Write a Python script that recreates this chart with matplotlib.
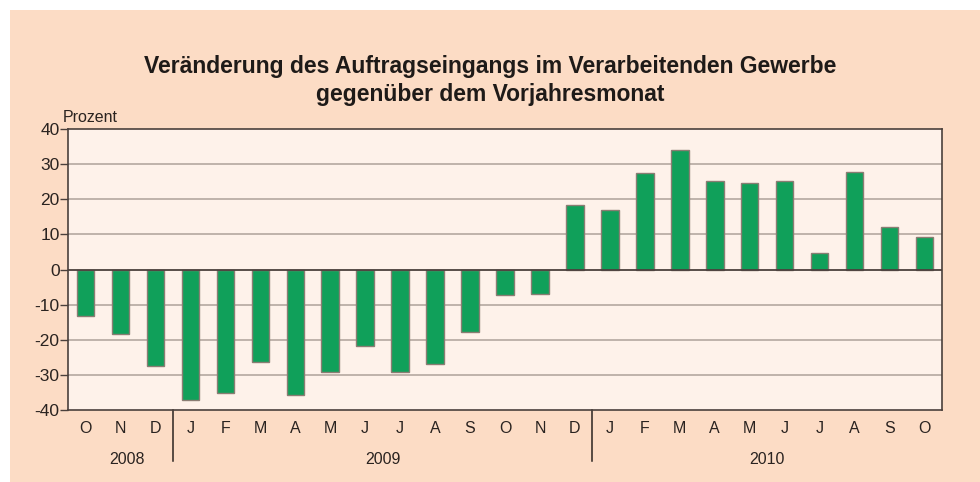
import matplotlib.pyplot as plt
from matplotlib.patches import Rectangle

# Monthly change of incoming orders vs. same month of previous year (percent)
months = ["O", "N", "D",
          "J", "F", "M", "A", "M", "J", "J", "A", "S", "O", "N", "D",
          "J", "F", "M", "A", "M", "J", "J", "A", "S", "O"]
values = [-13.1, -18.3, -27.5,
          -37.2, -35.2, -26.2, -35.7, -29.2, -21.9, -29.2, -26.9, -17.9, -7.3, -7.1, 18.3,
          17.0, 27.5, 34.0, 25.3, 24.6, 25.3, 4.8, 27.7, 12.1, 9.3]
years = ["2008", "2009", "2010"]
year_counts = [3, 12, 10]
yticks = [-40, -30, -20, -10, 0, 10, 20, 30, 40]

outer_bg = "#fcdcc5"
plot_bg = "#fef2ea"
green = "#10a05a"
edge = "#8a7d73"
grid_c = "#aea29a"
dark = "#4a403c"
text_c = "#2a2320"

plt.rcParams["font.family"] = ["Liberation Sans", "DejaVu Sans"]

fig = plt.figure(figsize=(9.8, 4.82), dpi=100, facecolor="white")
# peach panel, with the small white margin on the left and top
fig.patches.append(Rectangle((10 / 980, 0), 970 / 980, 472 / 482,
                             transform=fig.transFigure, facecolor=outer_bg,
                             edgecolor="none", zorder=-5))

ax = fig.add_axes([68 / 980, 72 / 482, 874 / 980, 281 / 482])
ax.set_zorder(2)
ax.set_facecolor(plot_bg)

x = list(range(len(values)))
ax.bar(x, values, width=0.5, color=green, edgecolor=edge, linewidth=1.0, zorder=3)

ax.set_xlim(-0.5, len(values) - 0.5)
ax.set_ylim(-40, 40)
ax.set_yticks(yticks)
ax.set_yticklabels([str(v) for v in yticks], fontsize=12.5, color=text_c)
ax.tick_params(axis="y", direction="out", length=6, width=1.0, color=dark, pad=0)

for v in yticks[1:-1]:
    ax.axhline(v, color=dark if v == 0 else grid_c, linewidth=1.3 if v == 0 else 1.1,
               zorder=1 if v != 0 else 4)

for s in ax.spines.values():
    s.set_color(dark)
    s.set_linewidth(1.2)

# month labels
ax.set_xticks(x)
ax.set_xticklabels(months, fontsize=11.5, color=text_c)
ax.tick_params(axis="x", length=0, pad=8)

# year separators and year labels
start = 0
for yr, n in zip(years, year_counts):
    ax.text(start + (n - 1) / 2 + (0.2 if start == 0 else 0), -0.175, yr,
            transform=ax.get_xaxis_transform(),
            ha="center", va="center", fontsize=11.5, color=text_c)
    if start > 0:
        ax.plot([start - 0.5, start - 0.5], [0, -0.18], transform=ax.get_xaxis_transform(),
                color=text_c, linewidth=1.1, clip_on=False)
    start += n

ax.text(-0.64, 41.0, "Prozent", ha="left", va="bottom", fontsize=11.5, color=text_c,
        transform=ax.transData)

fig.text(490 / 980, 1 - 67 / 482, "Veränderung des Auftragseingangs im Verarbeitenden Gewerbe",
         ha="center", va="center", fontsize=16.5, fontweight="bold", color="#1e1a18")
fig.text(490 / 980, 1 - 95 / 482, "gegenüber dem Vorjahresmonat",
         ha="center", va="center", fontsize=16.5, fontweight="bold", color="#1e1a18")

fig.savefig("out.png", dpi=100, facecolor=fig.get_facecolor())
